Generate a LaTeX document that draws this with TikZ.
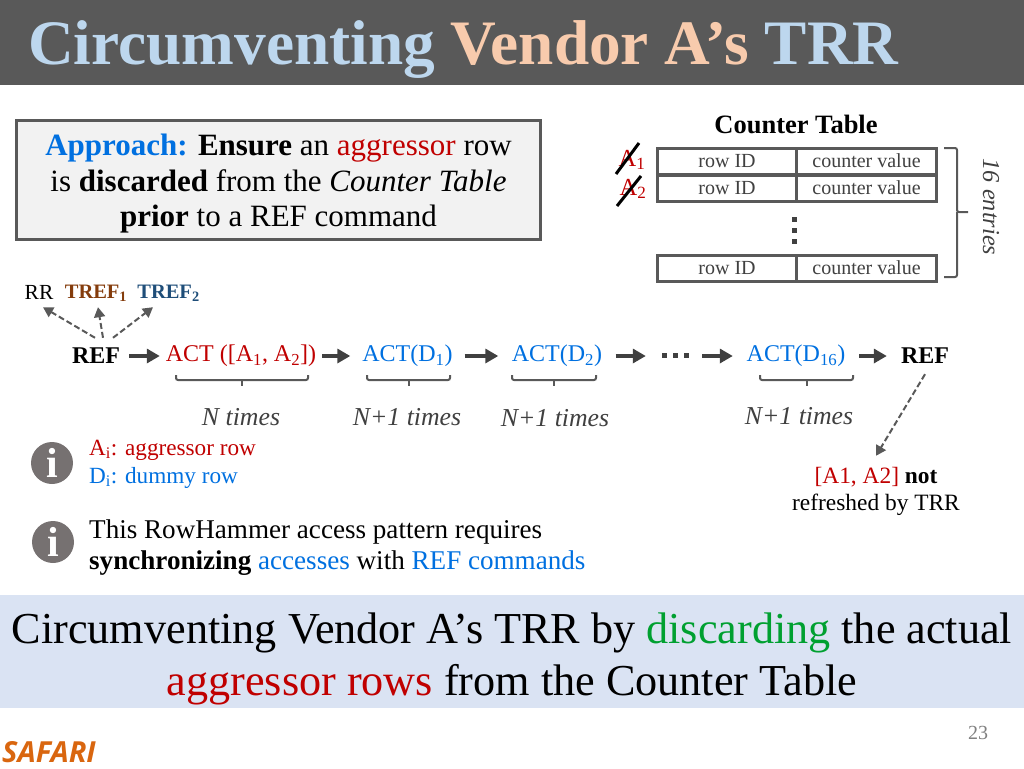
\documentclass[tikz,border=0pt]{standalone}
\usepackage{fontspec}
\setmainfont{Liberation Serif}
\newfontfamily\safarifont{Open Sans}
\usepackage{xcolor}
\usetikzlibrary{arrows.meta}
\definecolor{titlegray}{HTML}{595959}
\definecolor{titleblue}{HTML}{BDD7EE}
\definecolor{titlepeach}{HTML}{F8CBAD}
\definecolor{linegray}{HTML}{595959}
\definecolor{arrowgray}{HTML}{404040}
\definecolor{actred}{HTML}{C00000}
\definecolor{actblue}{HTML}{0070E0}
\definecolor{trefbrown}{HTML}{843C0C}
\definecolor{trefblue}{HTML}{1F4E79}
\definecolor{boxfill}{HTML}{F2F2F2}
\definecolor{bandfill}{HTML}{DAE3F3}
\definecolor{okgreen}{HTML}{00A030}
\definecolor{safari}{HTML}{D9660F}
\definecolor{infogray}{HTML}{767171}
\newcommand{\sz}[2]{\fontsize{#1}{#2}\selectfont}
\tikzstyle{cell}=[draw=linegray,line width=3pt,inner sep=0pt,minimum height=26pt,text=arrowgray,font=\sz{20}{22}]
\tikzstyle{flow}=[inner sep=0pt,minimum height=36pt,font=\sz{24}{28}]
\tikzstyle{flowarrow}=[-{Triangle[length=13pt,width=14pt]},line width=4pt,arrowgray]
\tikzstyle{dasharrow}=[-{Triangle[length=10pt,width=11pt]},line width=2pt,dash pattern=on 6pt off 3pt,linegray]
\tikzstyle{times}=[font=\sz{25.8}{28}\itshape,text=arrowgray]
\tikzstyle{bracket}=[line width=2pt,linegray,rounded corners=2pt]
\tikzstyle{info}=[circle,fill=infogray,text=white,inner sep=0pt,minimum width=42pt,font=\sz{42}{42}\bfseries]
\tikzstyle{plain}=[anchor=base west,inner sep=0pt,font=\sz{23.2}{26}]
\tikzstyle{para}=[anchor=base west,inner sep=0pt,font=\sz{27.1}{30}]

\begin{document}
\begin{tikzpicture}[x=1pt,y=-1pt]%
	\useasboundingbox (0,0) rectangle (1024,768);

	% title
	\fill [titlegray] (0,0) rectangle (1024,85);
	\draw (28,64) node (Title) [anchor=base west,inner sep=0pt,font=\sz{63.3}{64}\bfseries] {\textcolor{titleblue}{Circumventing} \textcolor{titlepeach}{Vendor A’s} \textcolor{titleblue}{TRR}};

	% approach box
	\draw (278.5,180) node (Approach) [draw=linegray,fill=boxfill,line width=3pt,minimum width=524pt,minimum height=119pt,inner sep=0pt] {};
	\draw (278.5,184) node (Approach_Text) [align=center,inner sep=0pt,font=\sz{31}{35.5}] {\textcolor{actblue}{\textbf{Approach:}} \textbf{Ensure} an \textcolor{actred}{aggressor} row\\is \textbf{discarded} from the \textit{Counter Table}\\\textbf{prior} to a REF command};

	% counter table
	\begin{scope}
		\draw (796,124) node (Table_Head) [font=\sz{26.5}{28}\bfseries] {Counter Table};
		\draw (727,161) node (Cell_1A) [cell,minimum width=139pt] {row ID};
		\draw (866.5,161) node (Cell_1B) [cell,minimum width=140pt] {counter value};
		\draw (727,188) node (Cell_2A) [cell,minimum width=139pt] {row ID};
		\draw (866.5,188) node (Cell_2B) [cell,minimum width=140pt] {counter value};
		\draw (727,268) node (Cell_3A) [cell,minimum width=139pt] {row ID};
		\draw (866.5,268) node (Cell_3B) [cell,minimum width=140pt] {counter value};
		\foreach \y in {219,230,241}
			\fill [arrowgray] (792,\y-2.5) rectangle (797,\y+2.5);

		\draw (632,160) node (Row_A1) [inner sep=0pt,text=actred,font=\sz{24.5}{28}] {A\textsubscript{1}};
		\draw (633,189) node (Row_A2) [inner sep=0pt,text=actred,font=\sz{24.5}{28}] {A\textsubscript{2}};
		\coordinate (Cross_1a) at (616,174);
		\coordinate (Cross_1b) at (639,143);
		\coordinate (Cross_2a) at (617,206);
		\coordinate (Cross_2b) at (641,176);
		\draw [line width=3pt] (Cross_1a) -- (Cross_1b);
		\draw [line width=3pt] (Cross_2a) -- (Cross_2b);

		\draw [bracket] (944,148) -- (957,148) -- (957,212) -- (968,212);
		\draw [bracket] (944,277) -- (957,277) -- (957,212);
		\draw (991,207) node (Entries) [rotate=-90,text=arrowgray,font=\sz{24.3}{26}\itshape] {16 entries};
	\end{scope}

	% command sequence
	\begin{scope}
		\draw (96,356) node (Ref_1) [flow,minimum width=66pt] {\textbf{REF}};
		\draw (241,356) node (Act_A) [flow,minimum width=162pt,text=actred] {ACT ([A\textsubscript{1}, A\textsubscript{2}])};
		\draw (407.5,356) node (Act_D1) [flow,minimum width=114pt,text=actblue] {ACT(D\textsubscript{1})};
		\draw (557,356) node (Act_D2) [flow,minimum width=117pt,text=actblue] {ACT(D\textsubscript{2})};
		\draw (674,356) node (Act_Dots) [flow,minimum width=56pt] {};
		\draw (796,356) node (Act_D16) [flow,minimum width=126pt,text=actblue] {ACT(D\textsubscript{16})};
		\draw (925,356) node (Ref_2) [flow,minimum width=76pt] {\textbf{REF}};

		\draw [flowarrow] (Ref_1) -- (Act_A);
		\draw [flowarrow] (Act_A) -- (Act_D1);
		\draw [flowarrow] (Act_D1) -- (Act_D2);
		\draw [flowarrow] (Act_D2) -- (Act_Dots);
		\draw [flowarrow] (Act_Dots) -- (Act_D16);
		\draw [flowarrow] (Act_D16) -- (Ref_2);
		\foreach \x in {664,675,686}
			\fill [arrowgray] (\x-2.5,353) rectangle (\x+2.5,358);

		\draw (39,292) node (Cmd_RR) [inner sep=0pt,minimum height=30pt,font=\sz{21.5}{24}] {RR};
		\draw (96,293.5) node (Cmd_T1) [inner sep=0pt,minimum height=27pt,text=trefbrown,font=\sz{20.5}{24}\bfseries] {TREF\textsubscript{1}};
		\draw (168.5,293.5) node (Cmd_T2) [inner sep=0pt,minimum height=27pt,text=trefblue,font=\sz{20.5}{24}\bfseries] {TREF\textsubscript{2}};
		\draw [dasharrow] ([xshift=-1pt]Ref_1.north) -- ([xshift=4pt]Cmd_RR.south);
		\draw [dasharrow] ([xshift=7pt]Ref_1.north) -- ([xshift=2pt]Cmd_T1.south);
		\draw [dasharrow] ([xshift=17pt]Ref_1.north) -- ([xshift=-15.5pt]Cmd_T2.south);

		\foreach \l/\r in {176/308,367/450,512/596,760/853} {
			\draw [bracket] (\l,375) -- (\l,380) -- (\r,380) -- (\r,375);
			\draw [line width=2pt,linegray] (\l/2+\r/2,380) -- (\l/2+\r/2,386);
		}

		\draw (241,417) node (Times_A) [times] {N times};
		\draw (407,417) node (Times_D1) [times] {N+1 times};
		\draw (555,418) node (Times_D2) [times] {N+1 times};
		\draw (799,416) node (Times_D16) [times] {N+1 times};

		\draw (876,491.5) node (Not_Ref) [inner sep=0pt,minimum height=71pt,align=center,font=\sz{23.4}{27}] {\textcolor{actred}{[A1, A2]} \textbf{not}\\refreshed by TRR};
		\draw [dasharrow] (Ref_2.south) -- (Not_Ref.north);
	\end{scope}

	% notes
	\draw (52,463) node (Info_1) [info] {i};
	\draw (53,542) node (Info_2) [info] {i};
	\draw (89,455) node (Note_A) [plain,text=actred] {A\textsubscript{i}: aggressor row};
	\draw (89,483) node (Note_D) [plain,text=actblue] {D\textsubscript{i}: dummy row};
	\draw (89,538) node (Note_P1) [para] {This RowHammer access pattern requires};
	\draw (89,569) node (Note_P2) [para] {\textbf{synchronizing} \textcolor{actblue}{accesses} with \textcolor{actblue}{REF commands}};

	% takeaway
	\fill [bandfill] (0,595) rectangle (1024,708);
	\draw (512,659) node (Takeaway) [align=center,inner sep=0pt,font=\sz{44.2}{52}] {Circumventing Vendor A’s TRR by \textcolor{okgreen}{discarding} the actual\\\textcolor{actred}{aggressor rows} from the Counter Table};

	% footer
	\draw (978,733) node (Page_No) [text=gray,font=\sz{20}{22}] {23};
	\draw (2,752) node (Safari) [anchor=west,inner sep=0pt,text=safari,font=\safarifont\sz{29}{30}\bfseries\itshape] {SAFARI};

\end{tikzpicture}
\end{document}
